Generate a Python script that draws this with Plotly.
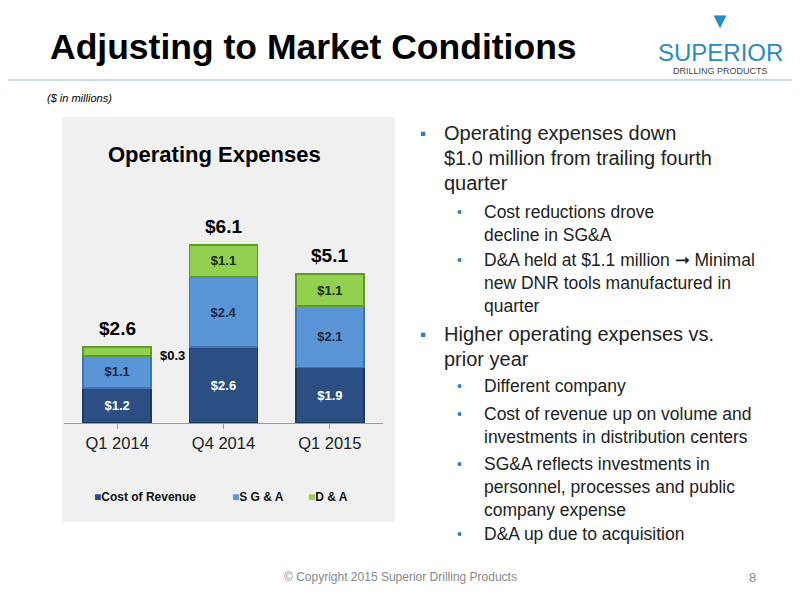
import plotly.graph_objects as go

categories = ["Q1 2014", "Q4 2014", "Q1 2015"]
cost_of_revenue = [1.2, 2.6, 1.9]
sga = [1.1, 2.4, 2.1]
da = [0.3, 1.1, 1.1]
totals = [2.6, 6.1, 5.1]

OX, OY = 8, 8  # page body margin compensation
def px(x): return (x - OX) / 800
def py(y): return 1 - (y - OY) / 600

fig = go.Figure()
def fmt(v): return [f"<b>${x:.1f}</b>" for x in v]
fig.add_bar(name="Cost of Revenue", x=categories, y=cost_of_revenue, text=fmt(cost_of_revenue),
            marker=dict(color="#2b4f82", line=dict(color="#1d3a63", width=1.5)),
            textfont=dict(color="white", size=13), textposition="inside", insidetextanchor="middle")
fig.add_bar(name="S G & A", x=categories, y=sga, text=fmt(sga),
            marker=dict(color="#5a95d8", line=dict(color="#3f74b5", width=1.5)),
            textfont=dict(color="#1a2a40", size=13), textposition="inside", insidetextanchor="middle")
da_text = [""] + fmt(da[1:])
fig.add_bar(name="D & A", x=categories, y=da, text=da_text,
            marker=dict(color="#92d050", line=dict(color="#5f9a2a", width=1.5)),
            textfont=dict(color="#1a2a10", size=13), textposition="inside", insidetextanchor="middle")

ann = []
for c, tot in zip(categories, totals):
    ann.append(dict(x=c, y=tot, xref="x", yref="y", text=f"<b>${tot:.1f}</b>", showarrow=False,
                    yanchor="bottom", yshift=6, font=dict(size=19, color="black")))
ann.append(dict(x=0, y=cost_of_revenue[0] + sga[0] + da[0], xref="x", yref="y", text="<b>$0.3</b>",
                showarrow=False, xshift=55, yshift=-8, font=dict(size=13, color="black")))

def t(x, y, s, size=18, color="black", anchor="left", bold=False):
    ann.append(dict(x=px(x), y=py(y), xref="paper", yref="paper", text=f"<b>{s}</b>" if bold else s,
                    showarrow=False, xanchor=anchor, yanchor="middle", font=dict(size=size, color=color), align="left"))

t(48, 47, "Adjusting to Market Conditions", 35.5, bold=True)
t(45, 98, "<i>($ in millions)</i>", 11)
t(215, 154, "Operating Expenses", 22, anchor="center", bold=True)
t(400, 577, "© Copyright 2015 Superior Drilling Products", 12, "#888", "center")
t(752, 577, "8", 13, "#888", "center")
t(720, 53, "SUPERIOR", 24, "#2a8ac6", "center")
t(720, 71, "DRILLING PRODUCTS", 9, "#444", "center")
t(720, 20, "▼", 22, "#2a8ac6", "center")

# legend
t(92, 497, '<span style="color:#2b4f82">■</span><b>Cost of Revenue</b>', 12, "#111")
t(230, 497, '<span style="color:#5a95d8">■</span><b>S G &amp; A</b>', 12, "#111")
t(306, 497, '<span style="color:#92d050">■</span><b>D &amp; A</b>', 12, "#111")

blue = "#2a7fc4"
lines = [
    (0, 133, "Operating expenses down"), (1, 158, "$1.0 million from trailing fourth"), (1, 183, "quarter"),
    (2, 212, "Cost reductions drove"), (3, 235, "decline in SG&A"),
    (2, 260, "D&A held at $1.1 million ➞ Minimal"), (3, 283, "new DNR tools manufactured in"), (3, 306, "quarter"),
    (0, 334, "Higher operating expenses vs."), (1, 359, "prior year"),
    (2, 386, "Different company"),
    (2, 414, "Cost of revenue up on volume and"), (3, 437, "investments in distribution centers"),
    (2, 464, "SG&A reflects investments in"), (3, 487, "personnel, processes and public"), (3, 510, "company expense"),
    (2, 534, "D&A up due to acquisition"),
]
for kind, y, s in lines:
    if kind == 0:
        t(418, y, "▪", 17, blue); t(442, y, s, 20, "#222")
    elif kind == 1:
        t(442, y, s, 20, "#222")
    elif kind == 2:
        t(455, y, "•", 14, blue); t(482, y, s, 17.5, "#222")
    else:
        t(482, y, s, 17.5, "#222")

shapes = [
    dict(type="rect", xref="paper", yref="paper", x0=px(62), x1=px(395), y0=py(522), y1=py(117),
         fillcolor="#f0f0f0", line=dict(width=0), layer="below"),
    dict(type="line", xref="paper", yref="paper", x0=0, x1=1, y0=py(80), y1=py(80),
         line=dict(color="#c8d8e8", width=2)),
]

fig.update_layout(
    width=800, height=600, margin=dict(l=0, r=0, t=0, b=0), barmode="stack", bargap=0.36,
    paper_bgcolor="white", plot_bgcolor="rgba(0,0,0,0)", font=dict(family="Liberation Sans"),
    showlegend=False,
    xaxis=dict(domain=[px(64), px(383)], showline=True, linecolor="#999", ticks="outside", tickcolor="#999",
               tickfont=dict(size=16.5, color="#222"), showgrid=False),
    yaxis=dict(domain=[py(423), py(117)], range=[0, 10.48], visible=False),
    annotations=ann, shapes=shapes,
)
fig.write_html("out.html")
